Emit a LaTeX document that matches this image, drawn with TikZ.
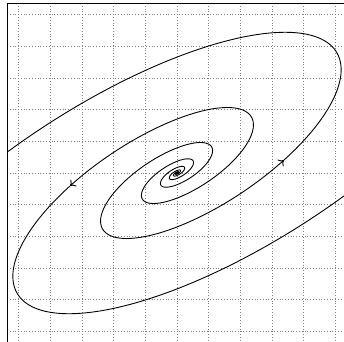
\documentclass[tikz,border=0pt]{standalone}
\usetikzlibrary{arrows.meta}
\tikzset{
  gridline/.style={gray, dotted, line width=0.5pt},
  framestyle/.style={black, line width=0.8pt},
  traj/.style={black, line width=0.8pt, line join=round},
  trajtip/.style={-{To[length=4.5pt,width=8pt]}},
}
\begin{document}
\begin{tikzpicture}[x=1cm,y=1cm]
\useasboundingbox (-5.592,-5.308) rectangle (5.276,5.466);
\draw[gridline] (-5.37,-5.37) grid (5.37,5.37);
\draw[framestyle] (-5.37,-5.6) -- (-5.37,5.37) -- (5.6,5.37);
\begin{scope}
\clip (-5.37,-5.37) rectangle (5.37,5.37);
% trajectory A
\draw[traj,trajtip] plot[variable=\t, domain=-20:2.25, samples=500, smooth]
  ({exp(0.2434*\t)*(2.4143*cos(\t r)-0.5681*sin(\t r))},
   {exp(0.2434*\t)*(1.5086*cos(\t r)+0.9091*sin(\t r))});
\draw[traj] plot[variable=\t, domain=2.25:5.7, samples=100, smooth]
  ({exp(0.2434*\t)*(2.4143*cos(\t r)-0.5681*sin(\t r))},
   {exp(0.2434*\t)*(1.5086*cos(\t r)+0.9091*sin(\t r))});
% trajectory B = -A
\draw[traj,trajtip] plot[variable=\t, domain=-20:2.25, samples=500, smooth]
  ({-exp(0.2434*\t)*(2.4143*cos(\t r)-0.5681*sin(\t r))},
   {-exp(0.2434*\t)*(1.5086*cos(\t r)+0.9091*sin(\t r))});
\draw[traj] plot[variable=\t, domain=2.25:5.7, samples=100, smooth]
  ({-exp(0.2434*\t)*(2.4143*cos(\t r)-0.5681*sin(\t r))},
   {-exp(0.2434*\t)*(1.5086*cos(\t r)+0.9091*sin(\t r))});
\end{scope}
\end{tikzpicture}
\end{document}
